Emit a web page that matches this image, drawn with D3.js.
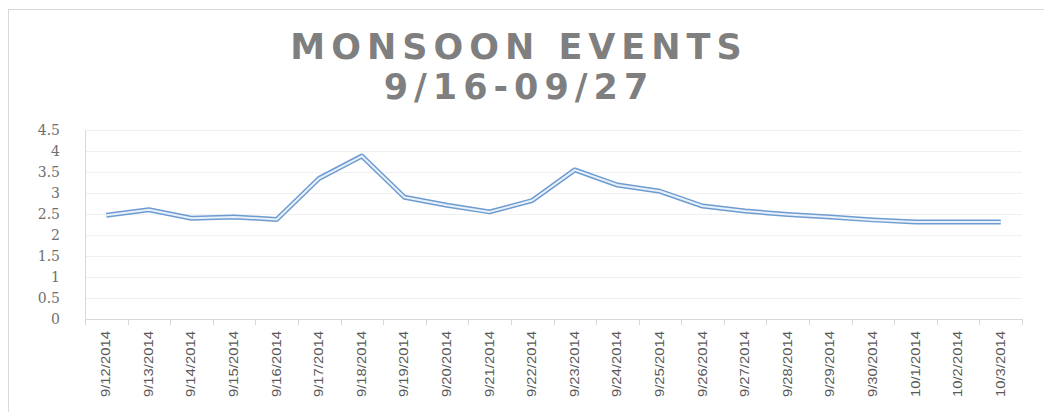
<!DOCTYPE html>
<html>
<head>
  <meta charset="utf-8">
  <script src="https://d3js.org/d3.v7.min.js"></script>
  <style>
    body { margin: 0; background: #fff; }
  </style>
</head>
<body>
  <div id="container"></div>
  <script>
    var dates = ['9/12/2014','9/13/2014','9/14/2014','9/15/2014','9/16/2014','9/17/2014','9/18/2014',
      '9/19/2014','9/20/2014','9/21/2014','9/22/2014','9/23/2014','9/24/2014','9/25/2014','9/26/2014',
      '9/27/2014','9/28/2014','9/29/2014','9/30/2014','10/1/2014','10/2/2014','10/3/2014'];
    var levels = [2.47, 2.6, 2.4, 2.43, 2.37, 3.35, 3.88, 2.9, 2.71, 2.55, 2.82, 3.55, 3.19, 3.04, 2.69,
      2.57, 2.49, 2.43, 2.36, 2.31, 2.31, 2.31];
    var yTicks = [0, 0.5, 1, 1.5, 2, 2.5, 3, 3.5, 4, 4.5];
    var titleLines = ['MONSOON EVENTS', '9/16-09/27'];

    var W = 1044, H = 412;
    var margin = {top: 130, right: 22, bottom: 93, left: 85};
    var width = W - margin.left - margin.right,
        height = H - margin.top - margin.bottom;

    var svg = d3.select('#container').append('svg')
      .attr('width', W)
      .attr('height', H);

    // chart frame
    svg.append('rect')
      .attr('x', 8.5).attr('y', 9.5)
      .attr('width', 1100).attr('height', 500)
      .attr('fill', 'none')
      .attr('stroke', '#d9d9d9');

    svg.selectAll('.title')
      .data(titleLines)
      .enter()
      .append('text')
        .attr('class', 'title')
        .attr('x', 519)
        .attr('y', (d, i) => 59 + i * 40)
        .attr('text-anchor', 'middle')
        .style('font', 'bold 35px "DejaVu Sans", sans-serif')
        .style('letter-spacing', '6px')
        .style('fill', '#7f7f7f')
        .text(d => d);

    var x = d3.scaleBand().domain(dates).range([0, width]);
    var y = d3.scaleLinear().domain([0, 4.5]).range([height, 0]);

    var g = svg.append('g').attr('transform', `translate(${margin.left},${margin.top})`);

    // gridlines
    g.selectAll('.grid')
      .data(yTicks.slice(1))
      .enter()
      .append('line')
        .attr('x1', 0).attr('x2', width)
        .attr('y1', d => Math.round(y(d)) + 0.5)
        .attr('y2', d => Math.round(y(d)) + 0.5)
        .attr('stroke', '#f0f0f0');

    // y labels
    g.selectAll('.ylab')
      .data(yTicks)
      .enter()
      .append('text')
        .attr('x', -25)
        .attr('y', d => y(d) + 5)
        .attr('text-anchor', 'end')
        .style('font', '14px "DejaVu Serif", serif')
        .style('fill', '#6f6f6f')
        .text(d => d);

    // y axis line
    g.append('line')
      .attr('x1', 0.5).attr('x2', 0.5)
      .attr('y1', 0).attr('y2', height)
      .attr('stroke', '#d9d9d9');

    // x axis line and ticks
    g.append('line')
      .attr('x1', 0).attr('x2', width)
      .attr('y1', height + 0.5).attr('y2', height + 0.5)
      .attr('stroke', '#d9d9d9');
    var edges = dates.map(d => x(d)).concat([width]);
    g.selectAll('.xtick')
      .data(edges)
      .enter()
      .append('line')
        .attr('x1', d => Math.round(d) + 0.5).attr('x2', d => Math.round(d) + 0.5)
        .attr('y1', height).attr('y2', height + 6)
        .attr('stroke', '#d9d9d9');

    g.selectAll('.xlab')
      .data(dates)
      .enter()
      .append('text')
        .attr('transform', d => `translate(${x(d) + x.bandwidth() / 2 + 4},${height + 12}) rotate(-90)`)
        .attr('text-anchor', 'end')
        .attr('textLength', 66)
        .attr('lengthAdjust', 'spacingAndGlyphs')
        .style('font', '13px "Liberation Sans Narrow", "Liberation Sans", sans-serif')
        .style('fill', '#595959')
        .text(d => d);

    // double line
    var line = d3.line()
      .x((d, i) => x(dates[i]) + x.bandwidth() / 2)
      .y(d => y(d));

    g.append('path')
      .datum(levels)
      .attr('d', line)
      .attr('fill', 'none')
      .attr('stroke', '#6e9bd0')
      .attr('stroke-width', 5)
      .attr('stroke-linejoin', 'round');
    g.append('path')
      .datum(levels)
      .attr('d', line)
      .attr('fill', 'none')
      .attr('stroke', '#e8f1fb')
      .attr('stroke-width', 2)
      .attr('stroke-linejoin', 'round');
  </script>
</body>
</html>
